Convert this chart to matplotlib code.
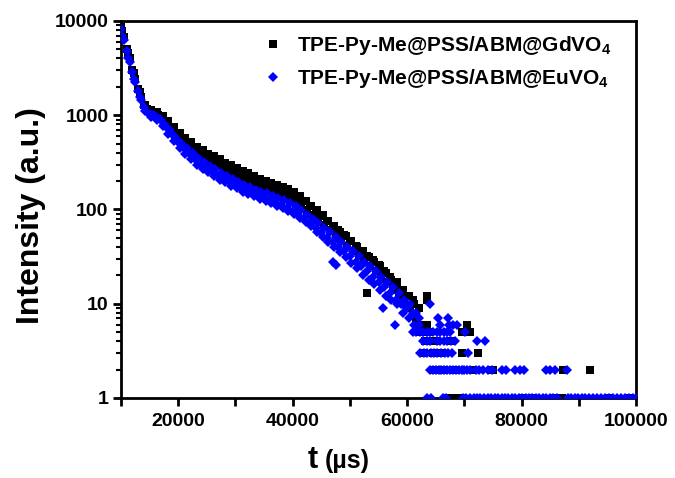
import matplotlib
matplotlib.use("Agg")
import matplotlib.pyplot as plt
from matplotlib.ticker import FixedLocator, FixedFormatter, LogLocator, NullFormatter

plt.rcParams['font.family'] = ['Liberation Sans', 'DejaVu Sans']
plt.rcParams['font.weight'] = 'bold'
plt.rcParams['mathtext.fontset'] = 'custom'
plt.rcParams['mathtext.bf'] = 'Liberation Sans:bold'
plt.rcParams['mathtext.rm'] = 'Liberation Sans:bold'
plt.rcParams['mathtext.default'] = 'bf'

# shared time grid of the dense decay part (µs)
t_main = [10000, 10500, 11000, 11500, 12000, 12500, 13000, 13500, 14000, 14500,
          15000, 15500, 16000, 16500, 17000, 17500, 18000, 18500, 19000, 19500,
          20000, 20500, 21000, 21500, 22000, 22500, 23000, 23500, 24000, 24500,
          25000, 25500, 26000, 26500, 27000, 27500, 28000, 28500, 29000, 29500,
          30000, 30500, 31000, 31500, 32000, 32500, 33000, 33500, 34000, 34500,
          35000, 35500, 36000, 36500, 37000, 37500, 38000, 38500, 39000, 39500,
          40000, 40500, 41000, 41500, 42000, 42500, 43000, 43500, 44000, 44500,
          45000, 45500, 46000, 46500, 47000, 47500, 48000, 48500, 49000, 49500,
          50000, 50500, 51000, 51500, 52000, 52500, 53000, 53500, 54000, 54500,
          55000, 55500, 56000, 56500, 57000, 57500, 58000, 58500, 59000, 59500,
          60000, 60500, 61000, 61500, 62000]

gd_main = [8600, 6800, 5000, 4000, 3000, 2450, 1900, 1580, 1290, 1170,
           1100, 1070, 1060, 1010, 960, 850, 820, 720, 700, 610,
           620, 540, 560, 480, 500, 430, 450, 380, 410, 360,
           380, 330, 350, 300, 325, 290, 300, 262, 280, 245,
           262, 228, 248, 215, 232, 200, 218, 188, 205, 176,
           192, 168, 185, 160, 178, 152, 170, 142, 160, 134,
           148, 124, 136, 110, 122, 98, 110, 88, 98, 78,
           86, 68, 76, 60, 67, 53, 60, 46, 53, 41,
           46, 36, 41, 32, 36, 28, 32, 25, 29, 22,
           26, 19, 22, 17, 19, 14, 17, 12, 14, 10,
           12, 9, 11, 7, 9]

eu_main = [8200, 6300, 4800, 3700, 2900, 2250, 1800, 1450, 1230, 1080,
           1030, 1000, 980, 930, 880, 800, 740, 700, 620, 590,
           520, 510, 450, 450, 390, 400, 340, 350, 300, 320,
           275, 290, 250, 268, 228, 245, 210, 228, 195, 212,
           180, 196, 168, 184, 158, 172, 148, 162, 140, 155,
           132, 148, 126, 140, 118, 134, 112, 126, 104, 118,
           96, 108, 88, 98, 80, 88, 72, 80, 64, 72,
           56, 64, 50, 57, 45, 51, 40, 45, 36, 40,
           32, 36, 28, 32, 25, 28, 22, 25, 19, 22,
           17, 19, 15, 17, 13, 15, 11, 13, 10, 11,
           9, 10, 8, 8, 7]

# interleaved readings between the grid points
t_mid = [10250, 11250, 12250, 13250, 14250, 15250, 16250, 17250, 18250, 19250,
         20250, 21250, 22250, 23250, 24250, 25250, 26250, 27250, 28250, 29250,
         30250, 31250, 32250, 33250, 34250, 35250, 36250, 37250, 38250, 39250,
         40250, 41250, 42250, 43250, 44250, 45250, 46250, 47250, 48250, 49250,
         50250, 51250, 52250, 53250, 54250, 55250, 56250, 57250, 58250, 59250,
         60250, 61250]
gd_mid = [7800, 4600, 2800, 1780, 1290, 1140, 1090, 990, 860, 750,
          650, 580, 515, 465, 425, 390, 365, 340, 315, 295,
          275, 258, 242, 226, 212, 200, 190, 182, 173, 164,
          152, 138, 124, 110, 99, 87, 76, 67, 58, 52,
          46, 40, 36, 31, 28, 25, 21, 18, 16, 14,
          12, 10]
eu_mid = [7000, 4000, 2450, 1550, 1100, 960, 880, 760, 640, 530,
          450, 390, 340, 300, 272, 248, 228, 208, 194, 178,
          168, 155, 146, 138, 130, 122, 116, 110, 104, 97,
          89, 81, 73, 66, 58, 51, 45, 40, 35, 31,
          27, 24, 20, 18, 16, 14, 12, 11, 10, 8,
          7, 6]

# sparse tail / outliers
gd_tail_t = [53000, 58200, 59300, 63500, 63500,
             61500, 62000, 63500, 70500,
             62500, 63800, 69600, 71000,
             63200, 64900, 67600,
             63000, 64500, 66000, 69600, 72400,
             64800, 66500, 68200, 71500, 75000, 87200, 92000,
             66800, 67500, 68200, 68900, 69500, 80300, 82000, 85800, 86400, 87000, 95500, 99000]
gd_tail_y = [13, 17, 13, 12, 11,
             7, 6, 6, 6,
             5, 5, 5, 5,
             4, 4, 4,
             3, 3, 3, 3, 3,
             2, 2, 2, 2, 2, 2, 2,
             1, 1, 1, 1, 1, 1, 1, 1, 1, 1, 1, 1]

eu_tail_t = [47000, 47500, 55800, 57900, 64000,
             65400, 67150,
             62000, 65800, 67400, 68000, 68700,
             61000, 61600, 62200, 62800, 63400, 64000, 64600, 65200, 65800, 66400, 67000, 67500, 70100,
             62800, 63400, 64000, 65200, 65800, 66400, 67000, 67600, 68400, 72200, 73600,
             62300, 62900, 63500, 64100, 64700, 65300, 65900, 66600, 67200, 67900, 70600,
             64000, 64500, 65000, 65500, 66000, 66500, 67000, 67500, 68000, 68500, 69000, 69500,
             70000, 70500, 71000, 72000, 72600, 73200, 74200, 74800, 76500, 77200, 78900, 79700,
             80400, 84200, 85000, 85800, 87900,
             63500, 64200, 66300, 66800, 69800, 70300, 71000, 71600, 72200, 72800, 73500, 74100,
             74700, 75300, 75900, 76500, 77100, 77700, 78300, 78900, 79500, 80100, 80700, 81300,
             81900, 82500, 83100, 83700, 84300, 84900, 85500, 86100, 88100, 88700, 89300, 89900,
             90500, 91100, 91800, 92500, 93200, 93900, 94600, 95300, 96000, 96700, 97400, 98100,
             98800, 99500, 100000]
eu_tail_y = [28, 26, 9, 6, 10,
             7, 7,
             6, 6, 6, 6, 6,
             5, 5, 5, 5, 5, 5, 5, 5, 5, 5, 5, 5, 5,
             4, 4, 4, 4, 4, 4, 4, 4, 4, 4, 4,
             3, 3, 3, 3, 3, 3, 3, 3, 3, 3, 3,
             2, 2, 2, 2, 2, 2, 2, 2, 2, 2, 2, 2,
             2, 2, 2, 2, 2, 2, 2, 2, 2, 2, 2, 2,
             2, 2, 2, 2, 2,
             1, 1, 1, 1, 1, 1, 1, 1, 1, 1, 1, 1,
             1, 1, 1, 1, 1, 1, 1, 1, 1, 1, 1, 1,
             1, 1, 1, 1, 1, 1, 1, 1, 1, 1, 1, 1,
             1, 1, 1, 1, 1, 1, 1, 1, 1, 1, 1, 1,
             1, 1, 1]

label_gd = r'TPE-Py-Me@PSS/ABM@GdVO$_{\mathbf{4}}$'
label_eu = r'TPE-Py-Me@PSS/ABM@EuVO$_{\mathbf{4}}$'

x_ticks = [20000, 40000, 60000, 80000, 100000]
y_ticks = [1, 10, 100, 1000, 10000]
y_tick_labels = ['1', '10', '100', '1000', '10000']

fig = plt.figure(figsize=(6.75, 4.78), dpi=100)
ax = fig.add_axes([0.1793, 0.1674, 0.763, 0.7887])

ax.plot(t_main + t_mid + gd_tail_t, gd_main + gd_mid + gd_tail_y, linestyle='none', marker='s',
        markersize=5.3, color='#000000', markeredgewidth=0, label=label_gd, zorder=2)
ax.plot(t_main + t_mid + eu_tail_t, eu_main + eu_mid + eu_tail_y, linestyle='none', marker='D',
        markersize=5.5, color='#0000ff', markeredgewidth=0, label=label_eu, zorder=3)

ax.set_yscale('log')
ax.set_xlim(10000, 100000)
ax.set_ylim(1, 10000)

ax.xaxis.set_major_locator(FixedLocator(x_ticks))
ax.xaxis.set_minor_locator(FixedLocator([10000, 30000, 50000, 70000, 90000]))
ax.yaxis.set_major_locator(FixedLocator(y_ticks))
ax.yaxis.set_major_formatter(FixedFormatter(y_tick_labels))
ax.yaxis.set_minor_locator(LogLocator(base=10, subs=[2, 3, 4, 5, 6, 7, 8, 9]))
ax.yaxis.set_minor_formatter(NullFormatter())

for s in ax.spines.values():
    s.set_linewidth(2)
ax.tick_params(axis='both', which='major', direction='out', length=6, width=2,
               labelsize=14, pad=3)
ax.tick_params(axis='x', which='major', pad=5)
ax.tick_params(axis='x', which='minor', direction='out', length=6, width=2)
ax.tick_params(axis='y', which='minor', direction='out', length=3.5, width=1.5)
for lab in ax.get_xticklabels() + ax.get_yticklabels():
    lab.set_fontweight('bold')

ax.set_ylabel('Intensity (a.u.)', fontsize=23, fontweight='bold')
ax.yaxis.set_label_coords(-0.146, 0.483)
fig.text(0.456, 0.02, 't', fontsize=22, fontweight='bold', ha='left', va='baseline')
fig.text(0.481, 0.02, '(µs)', fontsize=18, fontweight='bold', ha='left', va='baseline')

leg = ax.legend(loc='upper left', frameon=False, fontsize=15, handletextpad=0.67,
                borderpad=0, borderaxespad=0, labelspacing=0.5, handlelength=1.0,
                bbox_to_anchor=(0.274, 0.966))
for txt in leg.get_texts():
    txt.set_fontweight('bold')

fig.savefig('out.png', dpi=100)
